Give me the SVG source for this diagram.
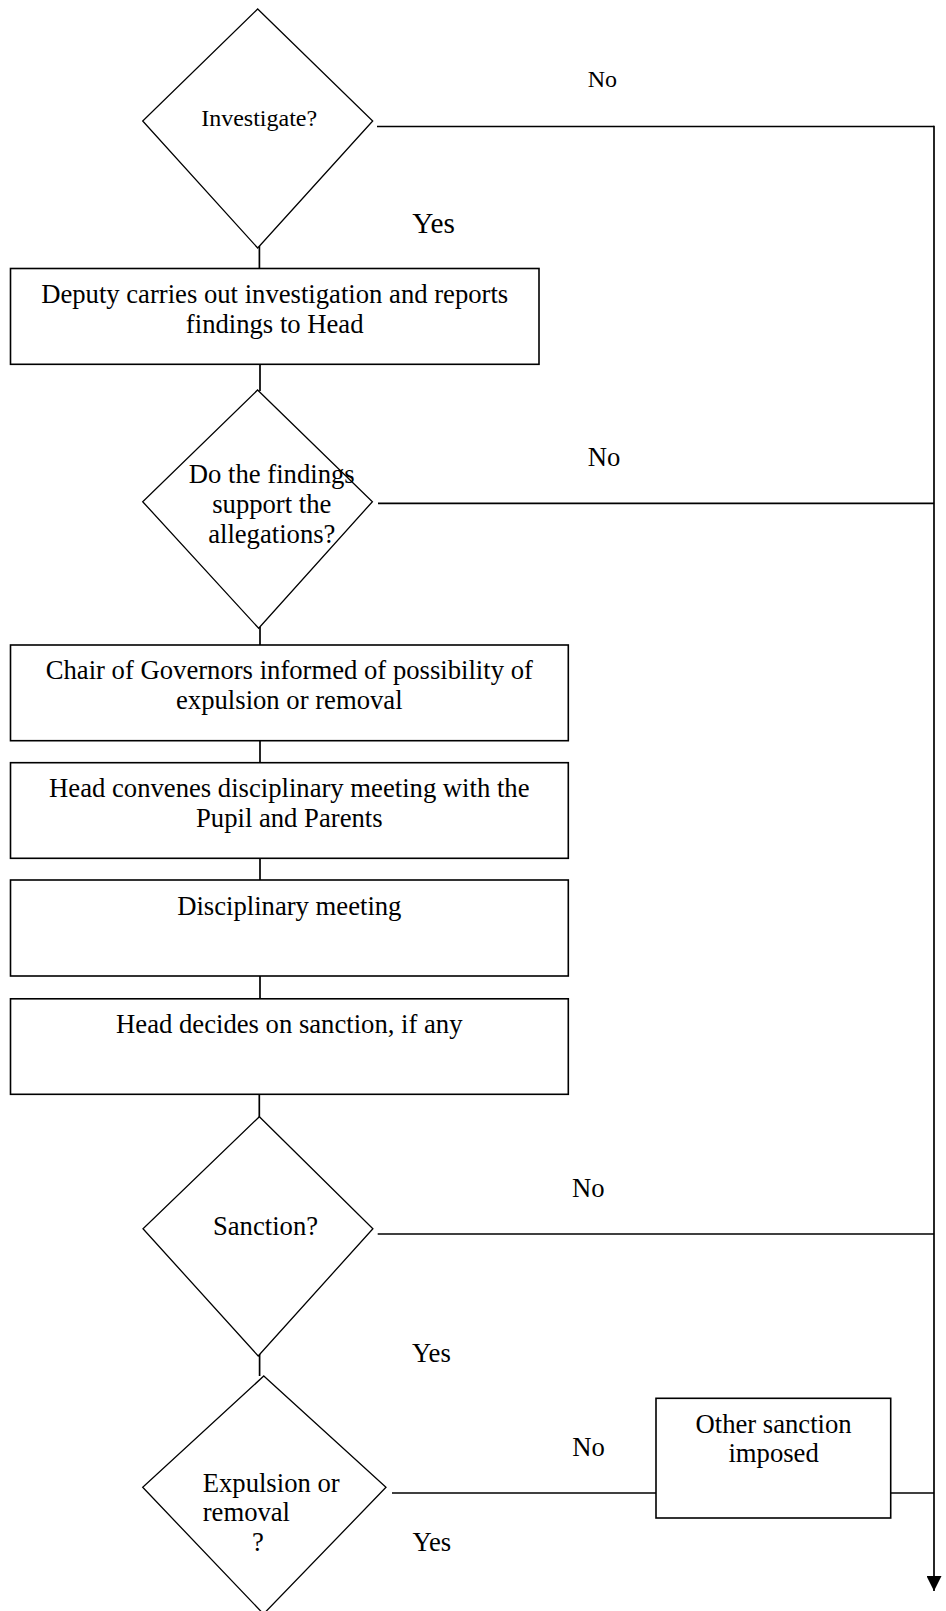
<svg xmlns="http://www.w3.org/2000/svg" width="946" height="1611" viewBox="0 0 946 1611">
<defs>
<style>
.bg{fill:#fff}
.box{fill:#fff;stroke:#000;stroke-width:1.6}
.dia{fill:#fff;stroke:#000;stroke-width:1.3}
.ln{fill:none;stroke:#000;stroke-width:1.7}
text{font-family:"Liberation Serif","Times New Roman",serif;fill:#000;font-size:26.67px}
.c{text-anchor:middle}
</style>
<marker id="arr" markerWidth="15" markerHeight="15" refX="15" refY="7.5" orient="auto" markerUnits="userSpaceOnUse">
<path d="M0,0 L15,7.5 L0,15 Z" fill="#000"/>
</marker>
</defs>
<rect class="bg" x="0" y="0" width="946" height="1611"/>

<g id="connectors">
<line class="ln" x1="259.4" y1="246" x2="259.4" y2="268.5"/>
<line class="ln" x1="260" y1="364.3" x2="260" y2="391"/>
<line class="ln" x1="260" y1="627" x2="260" y2="645"/>
<line class="ln" x1="260" y1="740.7" x2="260" y2="762.7"/>
<line class="ln" x1="260" y1="858.3" x2="260" y2="880"/>
<line class="ln" x1="260" y1="976" x2="260" y2="998.8"/>
<line class="ln" x1="259.3" y1="1094.3" x2="259.3" y2="1118"/>
<line class="ln" x1="259.6" y1="1354" x2="259.6" y2="1376"/>
<line class="ln" x1="377" y1="126.5" x2="934" y2="126.5"/>
<line class="ln" x1="378" y1="503.3" x2="934" y2="503.3"/>
<line class="ln" x1="377.7" y1="1234" x2="934" y2="1234"/>
<line class="ln" x1="392" y1="1493" x2="656" y2="1493"/>
<line class="ln" x1="890.7" y1="1493" x2="934" y2="1493"/>
<line class="ln" x1="934" y1="125.7" x2="934" y2="1591" marker-end="url(#arr)"/>
</g>

<g id="investigate">
<polygon class="dia" points="257.7,9 372.7,121 257.7,248 142.7,121"/>
<text class="c" x="259.2" y="126" style="font-size:24px">Investigate?</text>
</g>

<g id="deputy">
<rect class="box" x="10.5" y="268.5" width="528.5" height="95.8"/>
<text class="c" x="274.7" y="302.7">Deputy carries out investigation and reports</text>
<text class="c" x="274.7" y="332.7">findings to Head</text>
</g>

<g id="findings">
<polygon class="dia" points="257.6,390 372.4,501.7 258.7,628.3 142.7,501.7"/>
<text class="c" x="271.8" y="483.3">Do the findings</text>
<text class="c" x="271.8" y="513.3">support the</text>
<text class="c" x="271.8" y="542.7">allegations?</text>
</g>

<g id="chair">
<rect class="box" x="10.5" y="645" width="557.8" height="95.7"/>
<text class="c" x="289.3" y="679.3">Chair of Governors informed of possibility of</text>
<text class="c" x="289.3" y="709.3">expulsion or removal</text>
</g>

<g id="convenes">
<rect class="box" x="10.5" y="762.7" width="557.8" height="95.6"/>
<text class="c" x="289.3" y="796.7">Head convenes disciplinary meeting with the</text>
<text class="c" x="289.3" y="826.7">Pupil and Parents</text>
</g>

<g id="meeting">
<rect class="box" x="10.5" y="880" width="557.8" height="96"/>
<text class="c" x="289.3" y="914.7">Disciplinary meeting</text>
</g>

<g id="decides">
<rect class="box" x="10.5" y="998.8" width="557.8" height="95.5"/>
<text class="c" x="289.3" y="1033.3">Head decides on sanction, if any</text>
</g>

<g id="sanction">
<polygon class="dia" points="259.4,1116.7 372.9,1228.7 258.2,1356 143,1228.7"/>
<text class="c" x="265.5" y="1235">Sanction?</text>
</g>

<g id="expulsion">
<polygon class="dia" points="263.8,1376 386,1487.3 263.5,1614 142.7,1487.3"/>
<text x="202.7" y="1491.7">Expulsion or</text>
<text x="202.7" y="1520.7">removal</text>
<text x="252" y="1550.7">?</text>
</g>

<g id="other">
<rect class="box" x="656" y="1398.3" width="234.7" height="119.7"/>
<text class="c" x="773.6" y="1433.3">Other sanction</text>
<text class="c" x="773.6" y="1462">imposed</text>
</g>

<g id="labels">
<text x="587.7" y="87.3" style="font-size:24px">No</text>
<text x="412.3" y="233.3" style="font-size:29.3px">Yes</text>
<text x="587.7" y="466">No</text>
<text x="572" y="1196.7">No</text>
<text x="412" y="1361.5">Yes</text>
<text x="572.3" y="1456">No</text>
<text x="412.4" y="1550.7">Yes</text>
</g>
</svg>
